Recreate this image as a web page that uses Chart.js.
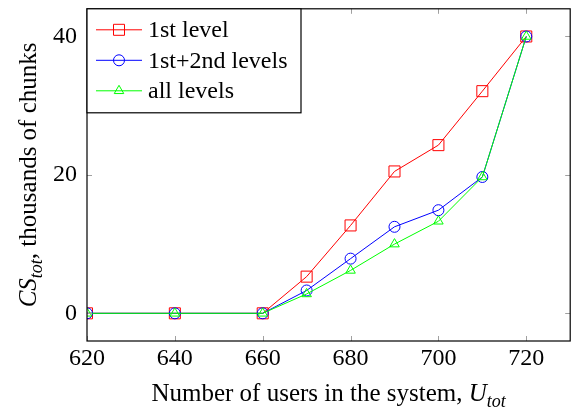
<!DOCTYPE html>
<html>
<head>
<meta charset="utf-8">
<script src="https://cdn.jsdelivr.net/npm/chart.js@4.4.0/dist/chart.umd.min.js"></script>
<style>
  html, body { margin: 0; padding: 0; background: #fff; }
</style>
</head>
<body>
<canvas id="myChart" width="579" height="407"></canvas>
<script>
var users = [620, 640, 660, 670, 680, 690, 700, 710, 720];
var firstLevel = [0, 0, 0, 5.3, 12.7, 20.5, 24.3, 32.1, 40];
var firstSecond = [0, 0, 0, 3.3, 7.9, 12.5, 14.9, 19.7, 40];
var allLevels = [0, 0, 0, 2.8, 6.2, 10.0, 13.3, 19.7, 40];
var xTicks = [620, 640, 660, 680, 700, 720];
var yTicks = [0, 20, 40];
var seriesNames = ['1st level', '1st+2nd levels', 'all levels'];
var seriesColors = ['#ff0000', '#0000ff', '#00ff00'];

const FONT = "'Liberation Serif', 'Times New Roman', serif";
const SIZE = 24;
const TITLE = 25;
const SUB = 18;

// ----------------------------------------------------------------

function toPoints(values) {
  return users.map(function (u, i) { return { x: u, y: values[i] }; });
}

function makeSet(i, values, style, radius, order) {
  return {
    label: seriesNames[i],
    data: toPoints(values),
    borderColor: seriesColors[i],
    backgroundColor: 'rgba(0,0,0,0)',
    borderWidth: 1,
    pointStyle: style,
    pointRadius: radius,
    pointBorderWidth: 1,
    pointBorderColor: seriesColors[i],
    pointBackgroundColor: 'rgba(0,0,0,0)',
    tension: 0,
    order: order
  };
}

function drawMarker(ctx, style, x, y, color) {
  ctx.save();
  ctx.strokeStyle = color;
  ctx.lineWidth = 1;
  ctx.beginPath();
  if (style === 'rect') {
    ctx.rect(x - 5.5, y - 5.5, 11, 11);
  } else if (style === 'circle') {
    ctx.arc(x, y, 5.5, 0, Math.PI * 2);
  } else {
    var r = 5.5;
    ctx.moveTo(x, y - r);
    ctx.lineTo(x + r * Math.sin(2 * Math.PI / 3), y - r * Math.cos(2 * Math.PI / 3));
    ctx.lineTo(x + r * Math.sin(4 * Math.PI / 3), y - r * Math.cos(4 * Math.PI / 3));
    ctx.closePath();
  }
  ctx.stroke();
  ctx.restore();
}

// draws a row of text pieces [text, italic, subscript] starting at x
function drawPieces(ctx, pieces, x, y) {
  pieces.forEach(function (p) {
    ctx.font = (p[1] ? 'italic ' : '') + (p[2] ? SUB : TITLE) + 'px ' + FONT;
    ctx.fillText(p[0], x, y + (p[2] ? 6 : 0));
    x += ctx.measureText(p[0]).width;
  });
}

function piecesWidth(ctx, pieces) {
  var w = 0;
  pieces.forEach(function (p) {
    ctx.font = (p[1] ? 'italic ' : '') + (p[2] ? SUB : TITLE) + 'px ' + FONT;
    w += ctx.measureText(p[0]).width;
  });
  return w;
}

const framePlugin = {
  id: 'frame',
  afterDraw: function (chart) {
    var ctx = chart.ctx;
    var a = chart.chartArea;
    var xs = chart.scales.x, ys = chart.scales.y;

    // inner ticks on all four sides
    ctx.save();
    ctx.strokeStyle = '#a0a0a0';
    ctx.lineWidth = 1;
    ctx.beginPath();
    xTicks.forEach(function (v) {
      var px = Math.round(xs.getPixelForValue(v)) + 0.5;
      ctx.moveTo(px, a.bottom); ctx.lineTo(px, a.bottom - 5);
      ctx.moveTo(px, a.top); ctx.lineTo(px, a.top + 5);
    });
    yTicks.forEach(function (v) {
      var py = Math.round(ys.getPixelForValue(v)) + 0.5;
      ctx.moveTo(a.left, py); ctx.lineTo(a.left + 5, py);
      ctx.moveTo(a.right, py); ctx.lineTo(a.right - 5, py);
    });
    ctx.stroke();

    // frame
    ctx.strokeStyle = '#000';
    ctx.lineWidth = 1.2;
    ctx.strokeRect(a.left, a.top, a.right - a.left, a.bottom - a.top);

    // legend
    var lx = a.left, ly = a.top, lw = 214, lh = 104;
    ctx.fillStyle = '#fff';
    ctx.fillRect(lx, ly, lw, lh);
    ctx.strokeRect(lx, ly, lw, lh);
    var styles = ['rect', 'circle', 'triangle'];
    ctx.textBaseline = 'middle';
    ctx.textAlign = 'left';
    for (var i = 0; i < 3; i++) {
      var ry = ly + 21 + i * 30.5;
      ctx.strokeStyle = seriesColors[i];
      ctx.lineWidth = 1;
      ctx.beginPath();
      ctx.moveTo(lx + 9, ry); ctx.lineTo(lx + 55, ry);
      ctx.stroke();
      drawMarker(ctx, styles[i], lx + 32, ry, seriesColors[i]);
      ctx.fillStyle = '#000';
      ctx.font = SIZE + 'px ' + FONT;
      ctx.fillText(seriesNames[i], lx + 61, ry + 1);
    }

    // axis titles
    ctx.fillStyle = '#000';
    ctx.textBaseline = 'alphabetic';
    var xt = [['Number of users in the system, ', false, false], ['U', true, false], ['tot', true, true]];
    var w = piecesWidth(ctx, xt);
    drawPieces(ctx, xt, (a.left + a.right) / 2 - w / 2, 401);

    var yt = [['CS', true, false], ['tot', true, true], [', thousands of chunks', false, false]];
    w = piecesWidth(ctx, yt);
    ctx.translate(36, (a.top + a.bottom) / 2);
    ctx.rotate(-Math.PI / 2);
    drawPieces(ctx, yt, -w / 2, 0);
    ctx.restore();
  }
};

const config = {
  type: 'line',
  data: {
    datasets: [
      makeSet(0, firstLevel, 'rect', 7.8, 2),
      makeSet(1, firstSecond, 'circle', 5.5, 1),
      makeSet(2, allLevels, 'triangle', 5.5, 0)
    ]
  },
  plugins: [framePlugin],
  options: {
    responsive: false,
    animation: false,
    devicePixelRatio: 1,
    layout: { padding: { top: 7, right: 6, left: 0, bottom: 0 } },
    plugins: {
      legend: { display: false },
      tooltip: { enabled: false }
    },
    scales: {
      x: {
        type: 'linear',
        min: 620,
        max: 730,
        afterBuildTicks: function (scale) {
          scale.ticks = xTicks.map(function (v) { return { value: v }; });
        },
        afterFit: function (scale) {
          scale.height = 66;
          scale.paddingLeft = 0;
          scale.paddingRight = 0;
        },
        border: { display: false },
        grid: { display: false, drawTicks: false },
        ticks: { padding: 3, color: '#000', font: { family: FONT, size: SIZE } }
      },
      y: {
        type: 'linear',
        min: -4,
        max: 44,
        afterBuildTicks: function (scale) {
          scale.ticks = yTicks.map(function (v) { return { value: v }; });
        },
        afterFit: function (scale) {
          scale.width = 87;
          scale.paddingTop = 0;
          scale.paddingBottom = 0;
        },
        border: { display: false },
        grid: { display: false, drawTicks: false },
        ticks: { padding: 10, color: '#000', font: { family: FONT, size: SIZE } }
      }
    }
  }
};

// --------------------------------

var canvas = document.getElementById('myChart').getContext('2d');
var myChart = new Chart(canvas, config);
</script>
</body>
</html>
